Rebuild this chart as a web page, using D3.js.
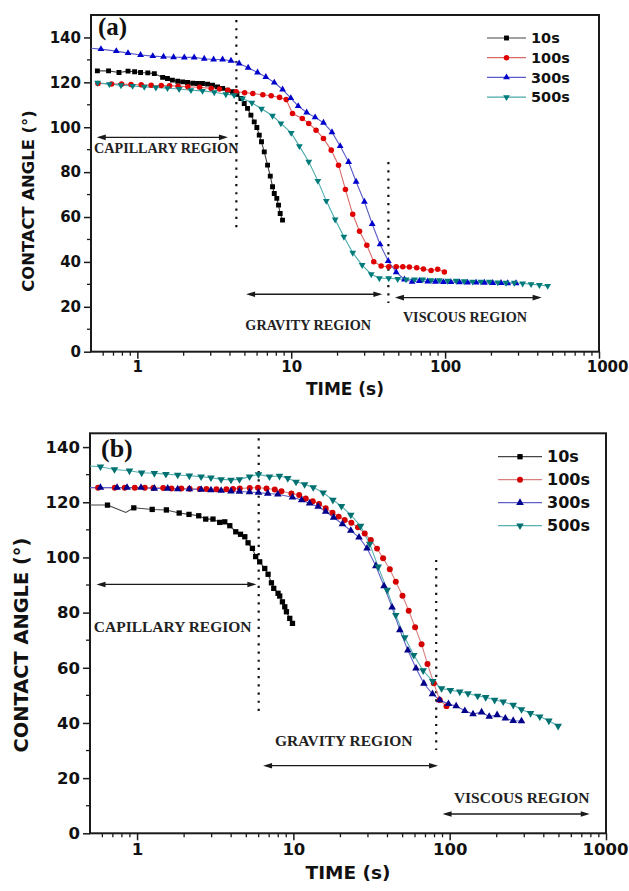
<!DOCTYPE html>
<html><head><meta charset="utf-8">
<script src="https://cdn.jsdelivr.net/npm/d3@7/dist/d3.min.js"></script>
<style>html,body{margin:0;padding:0;background:#fff;} svg{display:block;}</style>
</head><body>
<svg id="chart" width="629" height="891"></svg>
<script>
// ---------------- DATA ----------------
const seriesNames = ["10s", "100s", "300s", "500s"];
const xTickValues = [1, 10, 100, 1000];
const xTickLabels = ["1", "10", "100", "1000"];
const yTickValues = [0, 20, 40, 60, 80, 100, 120, 140];
const yTickLabels = ["0", "20", "40", "60", "80", "100", "120", "140"];
const panelLabels = ["(a)", "(b)"];
const xTitle = "TIME (s)";
const yTitle = "CONTACT ANGLE (°)";
const regionNames = ["CAPILLARY REGION", "GRAVITY REGION", "VISCOUS REGION"];

// panel (a): [time (s), contact angle (deg)]
const a10s = [[0.55,125.1],[0.65,125.1],[0.76,124.4],[0.87,125.0],[0.96,124.7],[1.05,124.4],[1.17,124.2],[1.29,123.9],[1.46,122.2],[1.57,121.7],[1.69,121.0],[1.83,120.5],[1.97,120.2],[2.12,119.9],[2.29,119.6],[2.46,119.5],[2.65,119.5],[2.86,119.2],[3.08,118.7],[3.32,118.0],[3.58,117.3],[3.86,116.5],[4.16,115.8],[4.44,114.7],[4.71,112.8],[4.95,110.6],[5.2,108.4],[5.47,105.4],[5.75,102.4],[5.98,99.9],[6.2,96.5],[6.41,93.5],[6.68,89.0],[7.02,83.1],[7.31,78.2],[7.56,73.5],[7.76,70.5],[8.06,68.3],[8.27,65.3],[8.48,61.6],[8.78,58.6]];
const a100s = [[0.555,119.5],[0.68,119.3],[0.79,119.2],[0.91,119.0],[1.06,118.9],[1.23,118.7],[1.43,118.6],[1.62,118.5],[1.84,118.3],[2.13,118.0],[2.54,117.8],[3.02,117.3],[3.42,117.0],[3.88,116.5],[4.39,115.8],[4.98,115.4],[5.63,115.0],[6.54,114.5],[7.41,114.0],[8.4,113.3],[9.28,112.3],[10.2,106.1],[11.8,103.9],[13.0,101.7],[14.5,98.7],[16.2,95.0],[18.2,89.8],[20.3,83.1],[22.5,72.3],[25.1,61.2],[27.8,53.7],[31.0,47.4],[34.4,40.1],[38.4,38.2],[43.0,37.8],[48.1,37.8],[53.1,37.8],[58.6,37.7],[65.4,37.4],[72.3,36.8],[81.1,36.2],[89.5,36.7],[98.9,35.5]];
const a300s = [[0.45,135.5],[0.58,134.8],[0.73,133.9],[0.87,133.0],[1.05,132.2],[1.26,131.7],[1.48,131.4],[1.72,131.2],[2.02,131.1],[2.34,131.1],[2.72,130.5],[3.13,130.2],[3.58,130.2],[4.06,129.6],[4.59,128.4],[5.25,126.5],[6.04,124.4],[6.84,122.4],[7.76,119.9],[8.79,116.8],[9.94,113.0],[11.1,109.4],[12.6,106.6],[14.3,104.4],[16.2,102.0],[18.4,97.8],[20.8,91.6],[23.6,84.5],[26.4,75.7],[29.9,66.8],[33.6,56.9],[37.8,47.8],[42.7,40.4],[48.1,35.4],[54.4,32.2],[61.1,31.2],[68.1,31.5],[77.1,31.3],[86.5,31.2],[97.5,31.0],[109,31.0],[124,30.9],[140,30.8],[159,30.8],[180,30.7],[204,30.6],[231,30.6],[255,30.5],[289,30.5]];
const a500s = [[0.552,119.8],[0.658,119.2],[0.783,118.7],[0.932,118.4],[1.11,118.0],[1.32,117.7],[1.57,117.4],[1.87,117.0],[2.23,116.5],[2.65,116.2],[3.16,115.6],[3.76,114.7],[4.26,114.3],[4.83,112.8],[5.55,110.9],[6.41,108.2],[7.56,105.1],[8.57,101.7],[10.0,97.5],[11.3,91.6],[13.0,84.6],[14.9,76.1],[16.9,67.2],[19.3,58.9],[22.0,51.2],[25.1,44.1],[28.9,38.6],[33.1,34.5],[37.4,32.7],[43.0,32.7],[49.2,32.4],[55.8,32.2],[63.2,32.2],[71.6,32.2],[81.1,31.9],[91.8,31.9],[104,31.6],[118,31.6],[133,31.4],[151,31.2],[171,31.2],[194,31.2],[220,30.9],[249,30.7],[282,30.7],[319,30.4],[362,30.1],[410,29.7],[464,29.3]];

// panel (b)
const b10s = [[0.45,119.0],[0.647,119.0],[0.847,116.3],[0.953,118.0],[1.25,117.4],[1.54,117.2],[1.86,116.1],[2.15,115.6],[2.48,115.1],[2.75,113.9],[3.06,113.9],[3.38,112.7],[3.64,112.9],[3.92,111.5],[4.28,109.3],[4.59,108.4],[4.89,107.5],[5.13,105.3],[5.47,103.3],[5.74,100.3],[6.09,98.4],[6.56,96.0],[6.89,93.9],[7.24,90.8],[7.49,88.8],[7.98,87.0],[8.18,86.0],[8.51,83.9],[8.81,82.1],[9.03,80.3],[9.48,77.9],[9.87,76.1]];
const b10sLineOnlyIdx = [2];
const b100s = [[0.45,125.3],[0.563,125.3],[0.72,125.3],[0.834,125.3],[0.967,125.3],[1.12,125.3],[1.27,125.2],[1.47,125.2],[1.66,125.0],[1.92,125.0],[2.17,124.9],[2.52,124.8],[2.78,124.8],[3.22,124.7],[3.73,124.7],[4.11,124.8],[4.54,125.0],[5.26,125.2],[5.94,125.3],[6.73,125.0],[7.6,124.6],[8.39,124.0],[9.72,123.2],[10.9,122.6],[12.0,121.4],[13.3,120.4],[14.6,119.4],[16.1,117.8],[17.8,116.2],[19.5,114.8],[21.3,113.6],[23.5,112.6],[25.9,110.9],[28.6,108.7],[31.3,106.3],[34.3,103.2],[37.5,99.7],[41.4,95.7],[45.2,91.2],[49.9,86.1],[54.7,80.7],[60.1,74.7],[66.1,68.5],[72.1,61.4],[79.1,54.4],[86.4,48.3],[95.4,46.1]];
const b300s = [[0.45,125.3],[0.583,125.3],[0.745,125.3],[0.863,125.3],[1.06,125.3],[1.29,125.0],[1.57,125.0],[1.82,124.8],[2.16,124.8],[2.57,124.6],[2.97,124.4],[3.45,124.2],[3.99,124.0],[4.52,123.9],[5.24,123.7],[5.98,123.5],[6.86,123.2],[7.95,122.9],[9.87,121.8],[11.3,120.8],[12.7,119.6],[14.4,118.4],[16.1,116.6],[18.1,114.5],[20.6,112.1],[23.3,109.7],[26.3,107.3],[29.6,103.3],[33.7,96.9],[38.0,89.6],[42.8,81.9],[48.0,73.7],[54.0,66.3],[60.9,59.8],[68.4,54.3],[77.6,50.5],[86.4,48.3],[98.2,46.9],[110,46.1],[125,44.4],[141,43.2],[160,43.9],[179,42.3],[201,42.9],[227,41.7],[255,40.8],[288,40.7]];
const b500s = [[0.45,133.3],[0.583,132.9],[0.717,131.9],[0.894,131.4],[1.07,130.7],[1.29,130.5],[1.53,130.2],[1.82,129.9],[2.16,129.6],[2.57,129.3],[2.97,128.9],[3.45,128.3],[3.99,128.1],[4.52,128.3],[5.24,129.3],[5.98,130.1],[7.03,129.3],[8.15,129.5],[9.21,128.7],[10.4,127.4],[11.8,126.5],[13.4,125.4],[15.5,123.5],[17.9,120.8],[20.3,118.6],[23.3,115.4],[26.9,111.4],[30.8,104.9],[34.9,96.6],[39.8,88.2],[45.2,79.1],[51.6,71.0],[58.9,64.6],[67.6,59.0],[77.9,55.1],[88.7,52.5],[101,51.9],[116,51.3],[131,50.7],[151,49.8],[170,49.3],[194,48.3],[220,47.7],[255,46.5],[288,44.9],[329,43.5],[377,42.3],[431,40.8],[494,38.9]];

// region boundaries (time, angle from, angle to)
const aBoundaries = [[4.4, 147.8, 53.8], [42.8, 84.5, 21.7]];
const bBoundaries = [[6.0, 143.2, 42.3], [82, 99.1, 30.2]];
// region arrows: [t from, t to, angle] ; labels: [t centre, angle]
const aArrows = [[0.545, 3.88, 95.5], [5.09, 39.1, 25.6], [47.2, 424, 24.1]];
const aLabelPos = [[1.54, 88.5], [12.9, 9.7], [134.6, 13.2]];
const bArrows = [[0.55, 5.8, 90.2], [6.4, 84.3, 24.5], [90, 787, 7.0]];
const bLabelPos = [[1.69, 73.0], [21, 31.6], [289, 11.1]];

// ---------------- LAYOUT / STYLE ----------------
const svg = d3.select("#chart");
const sans = "'DejaVu Sans', sans-serif";
const serif = "'Liberation Serif', 'Times New Roman', serif";

const panels = [
  { id: "a", label: panelLabels[0], box: {l: 91, r: 599, t: 15, b: 351.7}, yMax: 150,
    series: [a10s, a100s, a300s, a500s], lineOnly: [[], [], [], []],
    markerCol: ["#000000", "#e00000", "#0000cc", "#007b7b"],
    lineCol: ["#444444", "#d86a6a", "#5a5ac8", "#4aaaaa"],
    msize: [24, 24, 20, 20],
    bounds: aBoundaries, arrows: aArrows, labelPos: aLabelPos,
    tickFont: 15, titleFont: 17, yTitleFont: 16.4, legFont: 14.5, regFont: 14.2, panelFont: 25,
    yTitleX: 34, yTitleY: 201, xTitleY: 395,
    leg: {x0: 487, x1: 526, tx: 531, y0: 38, dy: 19.7},
    labelXY: [98, 35] },
  { id: "b", label: panelLabels[1], box: {l: 90, r: 606, t: 433.3, b: 833.3}, yMax: 145,
    series: [b10s, b100s, b300s, b500s], lineOnly: [b10sLineOnlyIdx, [], [], []],
    markerCol: ["#000000", "#d40000", "#00008b", "#007070"],
    lineCol: ["#444444", "#d88080", "#6060c8", "#55b0b0"],
    msize: [28, 28, 25, 25],
    bounds: bBoundaries, arrows: bArrows, labelPos: bLabelPos,
    tickFont: 16.5, titleFont: 18.5, yTitleFont: 19.4, legFont: 16, regFont: 15.5, panelFont: 26,
    yTitleX: 28, yTitleY: 645, xTitleY: 879,
    leg: {x0: 498, x1: 542, tx: 547, y0: 456.7, dy: 23},
    labelXY: [101, 457] }
];

const symTypes = [d3.symbolSquare, d3.symbolCircle, d3.symbolTriangle, d3.symbolTriangle];
const symRot = [0, 0, 0, 180];

function arrowHead(g, x, y, dir) {
  const L = 9, W = 2.8;
  g.append("path")
    .attr("d", `M${x},${y} L${x - dir * L},${y - W} L${x - dir * L},${y + W} Z`)
    .attr("fill", "#1a1a1a");
}

panels.forEach(p => {
  const x = d3.scaleLog().domain([0.5, 1000]).range([p.box.l, p.box.r]);
  const y = d3.scaleLinear().domain([0, p.yMax]).range([p.box.b, p.box.t]);
  const g = svg.append("g");
  const clipId = "clip-" + p.id;
  svg.append("clipPath").attr("id", clipId).append("rect")
    .attr("x", p.box.l).attr("y", p.box.t)
    .attr("width", p.box.r - p.box.l).attr("height", p.box.b - p.box.t);

  // ticks: x bottom
  const xAxis = d3.axisBottom(x).tickValues(xTickValues).tickFormat((d, i) => xTickLabels[i])
    .tickSizeInner(7).tickSizeOuter(0).tickPadding(3);
  const xg = g.append("g").attr("transform", `translate(0,${p.box.b})`).call(xAxis);
  xg.select(".domain").remove();
  xg.selectAll("line").attr("stroke", "#1a1a1a").attr("stroke-width", 1.5);
  xg.selectAll("text").attr("font-family", sans).attr("font-weight", "bold")
    .attr("font-size", p.tickFont).attr("fill", "#111");
  // keep the last label inside the page
  xg.selectAll("text").filter(d => d === 1000).attr("text-anchor", "end").attr("dx", 628 - p.box.r);
  // minor x ticks
  const minorX = [];
  [0.1, 1, 10, 100].forEach(dec => { for (let k = 2; k <= 9; k++) { const v = dec * k; if (v > 0.5 && v < 1000) minorX.push(v); } });
  g.append("g").selectAll("line").data(minorX).join("line")
    .attr("x1", d => x(d)).attr("x2", d => x(d))
    .attr("y1", p.box.b).attr("y2", p.box.b + 4)
    .attr("stroke", "#1a1a1a").attr("stroke-width", 1.3);

  // ticks: y left
  const yAxis = d3.axisLeft(y).tickValues(yTickValues).tickFormat((d, i) => yTickLabels[i])
    .tickSizeInner(7).tickSizeOuter(0).tickPadding(3);
  const yg = g.append("g").attr("transform", `translate(${p.box.l},0)`).call(yAxis);
  yg.select(".domain").remove();
  yg.selectAll("line").attr("stroke", "#1a1a1a").attr("stroke-width", 1.5);
  yg.selectAll("text").attr("font-family", sans).attr("font-weight", "bold")
    .attr("font-size", p.tickFont).attr("fill", "#111");
  const minorY = d3.range(10, p.yMax, 20);
  g.append("g").selectAll("line").data(minorY).join("line")
    .attr("x1", p.box.l - 4).attr("x2", p.box.l)
    .attr("y1", d => y(d)).attr("y2", d => y(d))
    .attr("stroke", "#1a1a1a").attr("stroke-width", 1.3);

  // frame
  g.append("rect").attr("x", p.box.l).attr("y", p.box.t)
    .attr("width", p.box.r - p.box.l).attr("height", p.box.b - p.box.t)
    .attr("fill", "none").attr("stroke", "#1a1a1a").attr("stroke-width", 2);

  // titles
  g.append("text").attr("x", (p.box.l + p.box.r) / 2).attr("y", p.xTitleY)
    .attr("text-anchor", "middle").attr("font-family", sans).attr("font-weight", "bold")
    .attr("font-size", p.titleFont).attr("fill", "#111").text(xTitle);
  g.append("text").attr("transform", `translate(${p.yTitleX},${p.yTitleY}) rotate(-90)`)
    .attr("text-anchor", "middle").attr("font-family", sans).attr("font-weight", "bold")
    .attr("font-size", p.yTitleFont).attr("fill", "#111").text(yTitle);

  // panel label
  g.append("text").attr("x", p.labelXY[0]).attr("y", p.labelXY[1])
    .attr("font-family", serif).attr("font-weight", "bold")
    .attr("font-size", p.panelFont).attr("fill", "#111").text(p.label);

  // boundaries (dotted)
  g.append("g").selectAll("line").data(p.bounds).join("line")
    .attr("x1", d => x(d[0])).attr("x2", d => x(d[0]))
    .attr("y1", d => y(d[1])).attr("y2", d => y(d[2]))
    .attr("stroke", "#111").attr("stroke-width", 2.2)
    .attr("stroke-dasharray", "2.2 6");

  // arrows
  const ag = g.append("g");
  p.arrows.forEach(a => {
    const x1 = x(a[0]), x2 = x(a[1]), yy = y(a[2]);
    ag.append("line").attr("x1", x1 + 3).attr("x2", x2 - 3).attr("y1", yy).attr("y2", yy)
      .attr("stroke", "#1a1a1a").attr("stroke-width", 1.3);
    arrowHead(ag, x1, yy, -1);
    arrowHead(ag, x2, yy, 1);
  });
  // region labels
  g.append("g").selectAll("text").data(p.labelPos).join("text")
    .attr("x", d => x(d[0])).attr("y", d => y(d[1]))
    .attr("text-anchor", "middle").attr("font-family", serif).attr("font-weight", "bold")
    .attr("font-size", p.regFont).attr("fill", "#222")
    .text((d, i) => regionNames[i]);

  // series
  const dg = g.append("g").attr("clip-path", `url(#${clipId})`);
  const line = d3.line().x(d => x(d[0])).y(d => y(d[1]));
  p.series.forEach((s, i) => {
    dg.append("path").datum(s).attr("d", line)
      .attr("fill", "none").attr("stroke", p.lineCol[i]).attr("stroke-width", 1.1);
  });
  p.series.forEach((s, i) => {
    const sym = d3.symbol().type(symTypes[i]).size(p.msize[i]);
    dg.append("g").selectAll("path")
      .data(s.filter((d, k) => !p.lineOnly[i].includes(k))).join("path")
      .attr("d", sym)
      .attr("transform", d => `translate(${x(d[0])},${y(d[1])}) rotate(${symRot[i]})`)
      .attr("fill", p.markerCol[i]);
  });

  // legend
  const lg = g.append("g");
  seriesNames.forEach((name, i) => {
    const yy = p.leg.y0 + i * p.leg.dy;
    lg.append("line").attr("x1", p.leg.x0).attr("x2", p.leg.x1).attr("y1", yy).attr("y2", yy)
      .attr("stroke", p.lineCol[i]).attr("stroke-width", 1.2);
    const sym = d3.symbol().type(symTypes[i]).size(p.msize[i]);
    lg.append("path").attr("d", sym)
      .attr("transform", `translate(${(p.leg.x0 + p.leg.x1) / 2},${yy}) rotate(${symRot[i]})`)
      .attr("fill", p.markerCol[i]);
    lg.append("text").attr("x", p.leg.tx).attr("y", yy).attr("dy", "0.36em")
      .attr("font-family", sans).attr("font-weight", "bold")
      .attr("font-size", p.legFont).attr("fill", "#111").text(name);
  });
});
</script>
</body></html>
